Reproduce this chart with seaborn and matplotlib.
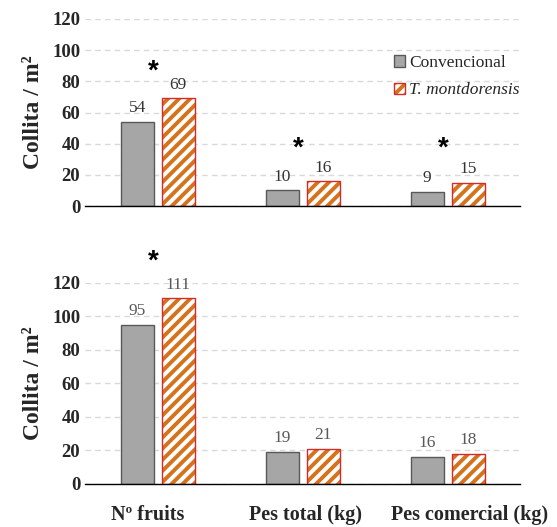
import pandas as pd
import matplotlib.pyplot as plt
import seaborn as sns
from matplotlib.patches import Patch, Rectangle
from matplotlib.legend_handler import HandlerTuple
from matplotlib.transforms import ScaledTranslation

categories = ['Nº fruits', 'Pes total (kg)', 'Pes comercial (kg)']
treatments = ['Convencional', 'T. montdorensis']
conv_top = [54, 10, 9]
mont_top = [69, 16, 15]
conv_bottom = [95, 19, 16]
mont_bottom = [111, 21, 18]
# y position of the significance stars (one per category, None = no star)
stars_top = [86, 37, 37]
stars_bottom = [133, None, None]

GRAY = '#A6A6A6'
GRAY_EDGE = '#595959'
ORANGE = '#D5731C'
RED = '#D42A2A'
DPI = 100

sns.set_theme(style='white')
plt.rcParams['font.family'] = ['Liberation Serif', 'DejaVu Serif']
plt.rcParams['hatch.linewidth'] = 2.8


def long_df(conv, mont):
    return pd.DataFrame({
        'Variable': categories * 2,
        'Collita': conv + mont,
        'Tractament': [treatments[0]] * 3 + [treatments[1]] * 3,
    })


fig = plt.figure(figsize=(5.57, 5.27), dpi=DPI)
ax_top = fig.add_axes([0.153, 0.609, 0.781, 0.355])
ax_bot = fig.add_axes([0.153, 0.082, 0.781, 0.381])

panels = [(ax_top, conv_top, mont_top, stars_top, '#333333'),
          (ax_bot, conv_bottom, mont_bottom, stars_bottom, '#595959')]

for ax, conv, mont, stars, lab_col in panels:
    df = long_df(conv, mont)
    sns.barplot(data=df, x='Variable', y='Collita', hue='Tractament',
                hue_order=treatments, palette=[GRAY, 'white'],
                width=0.565, gap=0.19, ax=ax, legend=False)
    c_gray, c_mont = ax.containers[0], ax.containers[1]
    for p in c_gray:
        p.set_edgecolor(GRAY_EDGE)
        p.set_linewidth(1.0)
    for p in c_mont:
        p.set_facecolor('white')
        p.set_edgecolor(ORANGE)
        p.set_hatch('///')
        p.set_linewidth(0)
        ax.add_patch(Rectangle(p.get_xy(), p.get_width(), p.get_height(),
                               fill=False, edgecolor=RED, linewidth=1.0,
                               zorder=p.get_zorder() + 0.1))
    for cont in (c_gray, c_mont):
        ax.bar_label(cont, fmt='%d', padding=4, fontsize=12.5, color=lab_col)
    for i, s in enumerate(stars):
        if s is not None:
            ax.text(i - 0.03, s, '*', ha='center', va='center', fontsize=20,
                    fontweight='bold', color='black', family='Liberation Sans',
                    clip_on=False)

    ax.set_ylim(0, 120)
    ax.set_xlim(-0.5, 2.5)
    ax.set_yticks(range(0, 121, 20))
    ax.yaxis.grid(True, linestyle=(0, (4, 3)), color='#D9D9D9', linewidth=1)
    ax.set_axisbelow(True)
    for side in ('left', 'right', 'top'):
        ax.spines[side].set_visible(False)
    ax.spines['bottom'].set_color('black')
    ax.spines['bottom'].set_linewidth(1.0)
    ax.tick_params(axis='both', length=0, labelsize=13.5, pad=3.5)
    for t in ax.get_yticklabels():
        t.set_fontweight('bold')
    ax.set_ylabel('Collita / m²', fontsize=17, fontweight='bold', labelpad=6)
    ax.set_xlabel('')

ax_top.set_xticklabels([])
ax_bot.tick_params(axis='x', labelsize=14.5, pad=15)
# the original category labels are not quite centred under their groups
label_shift_px = [-10, 3, 22]
for t, dx in zip(ax_bot.get_xticklabels(), label_shift_px):
    t.set_fontweight('bold')
    t.set_transform(t.get_transform() +
                    ScaledTranslation(dx / DPI, 0, fig.dpi_scale_trans))

h_conv = Patch(facecolor=GRAY, edgecolor=GRAY_EDGE, linewidth=1.0)
h_mont = (Patch(facecolor='white', edgecolor=ORANGE, hatch='///', linewidth=0),
          Patch(fill=False, edgecolor=RED, linewidth=1.0))
leg = ax_top.legend([h_conv, h_mont], treatments, loc='upper right',
                    bbox_to_anchor=(1.035, 0.89), frameon=False, fontsize=12.5,
                    handlelength=0.65, handleheight=0.65, handletextpad=0.25,
                    labelspacing=0.65,
                    handler_map={tuple: HandlerTuple(ndivide=1, pad=0)})
leg.get_texts()[1].set_fontstyle('italic')

fig.savefig('out.png', dpi=DPI)
